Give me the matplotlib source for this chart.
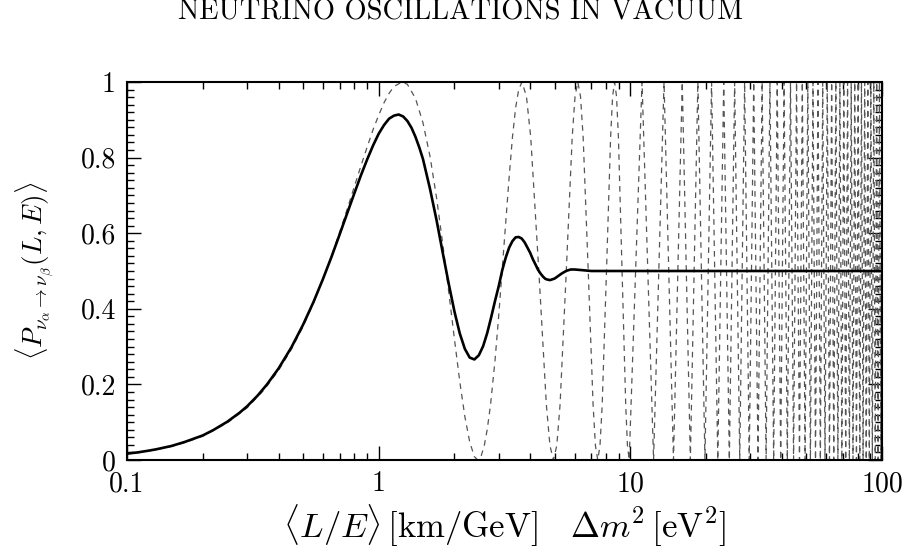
import matplotlib
matplotlib.use("Agg")
import matplotlib.pyplot as plt
from matplotlib.ticker import FixedLocator, FixedFormatter, MultipleLocator, LogLocator, NullFormatter

plt.rcParams['font.family'] = 'serif'
plt.rcParams['font.serif'] = ['cmr10', 'DejaVu Serif']
plt.rcParams['mathtext.fontset'] = 'cm'
plt.rcParams['axes.formatter.use_mathtext'] = True

# averaged probability (solid)
solid_x = [0.1, 0.11, 0.12, 0.13, 0.15, 0.17, 0.2, 0.22, 0.25, 0.28, 0.3, 0.33, 0.36,
           0.4, 0.45, 0.5, 0.55, 0.6, 0.65, 0.7, 0.75, 0.8, 0.85, 0.9, 0.95, 1.0,
           1.05, 1.1, 1.15, 1.2, 1.25, 1.3, 1.35, 1.4, 1.45, 1.5, 1.6, 1.7, 1.8,
           1.9, 2.0, 2.1, 2.2, 2.3, 2.4, 2.5, 2.6, 2.7, 2.8, 2.9, 3.0, 3.1, 3.2,
           3.3, 3.4, 3.5, 3.6, 3.7, 3.8, 3.9, 4.0, 4.1, 4.2, 4.3, 4.4, 4.5, 4.6,
           4.7, 4.8, 4.9, 5.0, 5.15, 5.3, 5.45, 5.6, 5.8, 6.0, 6.25, 6.5, 7.0,
           8.0, 100.0]
solid_y = [0.017, 0.020, 0.024, 0.028, 0.037, 0.048, 0.065, 0.079, 0.101, 0.125,
           0.142, 0.170, 0.200, 0.242, 0.298, 0.357, 0.417, 0.478, 0.538, 0.597,
           0.653, 0.705, 0.753, 0.795, 0.832, 0.863, 0.886, 0.903, 0.911, 0.914,
           0.909, 0.897, 0.879, 0.855, 0.827, 0.796, 0.717, 0.633, 0.546, 0.465,
           0.393, 0.335, 0.294, 0.271, 0.266, 0.277, 0.301, 0.336, 0.378, 0.421,
           0.460, 0.503, 0.536, 0.562, 0.579, 0.589, 0.590, 0.586, 0.576, 0.562,
           0.548, 0.531, 0.517, 0.503, 0.493, 0.485, 0.479, 0.477, 0.476, 0.478,
           0.480, 0.486, 0.492, 0.497, 0.501, 0.504, 0.504, 0.503, 0.502, 0.500,
           0.500, 0.500]

# unaveraged probability (dashed), first oscillations
dashed_x = [0.1, 0.11, 0.12, 0.13, 0.15, 0.17, 0.2, 0.25, 0.3, 0.35, 0.4, 0.45,
            0.5, 0.55, 0.6, 0.65, 0.7, 0.75, 0.8, 0.85, 0.9, 0.95, 1.0, 1.05,
            1.1, 1.15, 1.237, 1.3, 1.4, 1.5, 1.6, 1.7, 1.8, 1.9, 2.0, 2.1, 2.2,
            2.3, 2.4, 2.474,
            2.55, 2.628, 2.7, 2.783, 2.9, 3.0, 3.092, 3.2, 3.3, 3.401, 3.5, 3.6, 3.711,
            3.865, 4.020, 4.329, 4.638, 4.793, 4.947,
            5.102, 5.257, 5.566, 5.875, 6.030, 6.184,
            6.339, 6.494, 6.803, 7.112, 7.267, 7.421,
            7.576, 7.730, 8.040, 8.349, 8.503, 8.658,
            8.813, 8.967, 9.276, 9.586, 9.740, 9.895]
dashed_y = [0.016, 0.019, 0.023, 0.027, 0.036, 0.046, 0.063, 0.098, 0.138, 0.185,
            0.237, 0.293, 0.352, 0.414, 0.477, 0.540, 0.603, 0.664, 0.723, 0.778,
            0.828, 0.874, 0.912, 0.945, 0.970, 0.988, 1.0, 0.994, 0.957, 0.892,
            0.803, 0.692, 0.568, 0.443, 0.320, 0.208, 0.115, 0.048, 0.009, 0.0,
            0.009, 0.038, 0.081, 0.146, 0.264, 0.383, 0.5, 0.635, 0.749, 0.854,
            0.931, 0.980, 1.0,
            0.962, 0.854, 0.5, 0.146, 0.038, 0.0,
            0.038, 0.146, 0.5, 0.854, 0.962, 1.0,
            0.962, 0.854, 0.5, 0.146, 0.038, 0.0,
            0.038, 0.146, 0.5, 0.854, 0.962, 1.0,
            0.962, 0.854, 0.5, 0.146, 0.038, 0.0]

# beyond 10 only the maxima / zeros of the dashed curve
peak_x = [11.13, 13.61, 16.08, 18.55, 21.03, 23.50, 25.97, 28.45, 30.92, 33.40,
          35.87, 38.34, 40.82, 43.29, 45.76, 48.24, 50.71, 53.18, 55.66, 58.13,
          60.61, 63.08, 65.55, 68.03, 70.50, 72.97, 75.45, 77.92, 80.40, 82.87,
          85.34, 87.82, 90.29, 92.76, 95.24, 97.71, 100.18]
zero_x = [12.37, 14.84, 17.32, 19.79, 22.26, 24.74, 27.21, 29.68, 32.16, 34.63,
          37.11, 39.58, 42.05, 44.53, 47.00, 49.47, 51.95, 54.42, 56.90, 59.37,
          61.84, 64.32, 66.79, 69.26, 71.74, 74.21, 76.69, 79.16, 81.63, 84.11,
          86.58, 89.05, 91.53, 94.00, 96.47, 98.95]

x_ticks = [0.1, 1, 10, 100]
x_labels = ['0.1', '1', '10', '100']
y_ticks = [0, 0.2, 0.4, 0.6, 0.8, 1]
y_labels = ['0', '0.2', '0.4', '0.6', '0.8', '1']

far = sorted([(x, 1.0) for x in peak_x] + [(x, 0.0) for x in zero_x])
all_dx = dashed_x + [p[0] for p in far]
all_dy = dashed_y + [p[1] for p in far]

fig = plt.figure(figsize=(9.12, 5.58), dpi=100)
ax = fig.add_axes([127/912, 1-460/558, (882-127)/912, (460-82)/558])

ax.plot(all_dx, all_dy, color='#555555', lw=0.9, ls=(0, (4.5, 4)))
ax.plot(solid_x, solid_y, color='black', lw=1.9)

ax.set_xscale('log')
ax.set_xlim(0.1, 100)
ax.set_ylim(0, 1)

ax.xaxis.set_major_locator(FixedLocator(x_ticks))
ax.xaxis.set_major_formatter(FixedFormatter(x_labels))
ax.xaxis.set_minor_locator(LogLocator(base=10, subs=range(2, 10)))
ax.xaxis.set_minor_formatter(NullFormatter())
ax.yaxis.set_major_locator(FixedLocator(y_ticks))
ax.yaxis.set_major_formatter(FixedFormatter(y_labels))
ax.yaxis.set_minor_locator(MultipleLocator(0.02))

ax.tick_params(which='both', direction='in', top=True, right=True, width=1.0)
ax.tick_params(which='major', length=10, labelsize=20, pad=8)
ax.tick_params(which='minor', length=5)
for s in ax.spines.values():
    s.set_linewidth(1.5)

ax.set_xlabel(r'$\langle L/E\rangle\,[\mathrm{km/GeV}]\quad\Delta m^2\,[\mathrm{eV}^2]$',
              fontsize=25, labelpad=4)
ax.set_ylabel(r'$\langle P_{\nu_\alpha\to\nu_\beta}(L,E)\rangle$', fontsize=19.5)
ax.yaxis.set_label_coords(-0.094, 0.5)

fig.text(0.505, 0.977, 'NEUTRINO OSCILLATIONS IN VACUUM', ha='center', va='center',
         fontsize=20.5)

fig.savefig('out.png', dpi=100)
